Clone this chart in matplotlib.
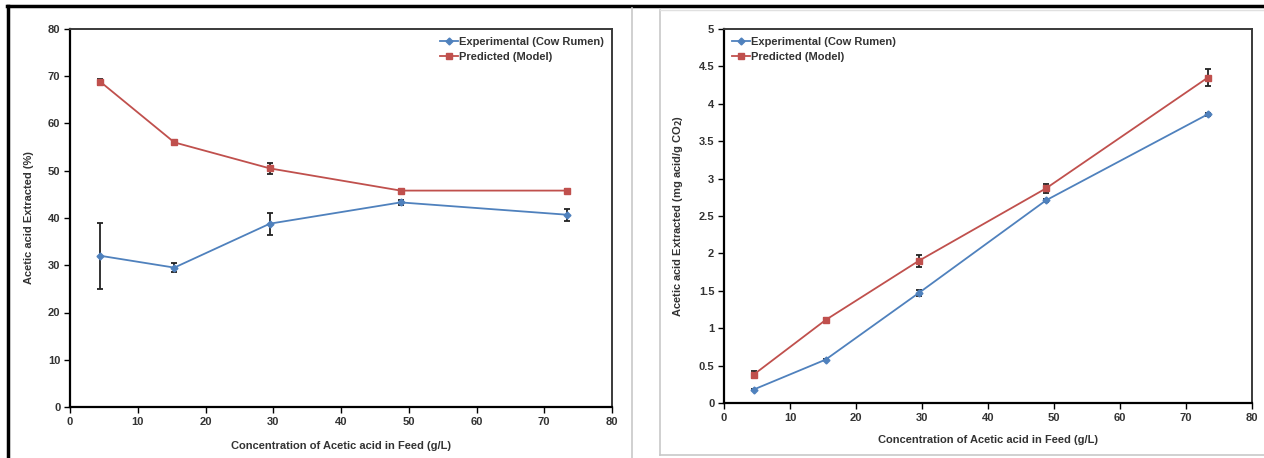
import matplotlib
matplotlib.use("Agg")
import matplotlib.pyplot as plt
from matplotlib.lines import Line2D

plt.rcParams['font.family'] = ['Liberation Sans', 'DejaVu Sans']
plt.rcParams['font.weight'] = 'bold'

feed_conc = [4.5, 15.4, 29.5, 48.8, 73.3]

# Left panel: % extracted
exp_pct = [32.0, 29.5, 38.8, 43.3, 40.7]
exp_pct_err = [7.0, 1.0, 2.3, 0.5, 1.3]
pred_pct = [68.8, 56.0, 50.5, 45.8, 45.8]
pred_pct_err = [0.6, 0.3, 1.2, 0.3, 0.3]

# Right panel: mg acid / g CO2
exp_mg = [0.18, 0.58, 1.47, 2.71, 3.86]
exp_mg_err = [0.01, 0.01, 0.04, 0.02, 0.02]
pred_mg = [0.38, 1.11, 1.90, 2.87, 4.35]
pred_mg_err = [0.05, 0.02, 0.08, 0.06, 0.11]

x_ticks = [0, 10, 20, 30, 40, 50, 60, 70, 80]
left_yticks = [0, 10, 20, 30, 40, 50, 60, 70, 80]
right_yticks = [0, 0.5, 1, 1.5, 2, 2.5, 3, 3.5, 4, 4.5, 5]
right_yticklabels = ['0', '0.5', '1', '1.5', '2', '2.5', '3', '3.5', '4', '4.5', '5']

labels = ['Experimental (Cow Rumen)', 'Predicted (Model)']
x_label = 'Concentration of Acetic acid in Feed (g/L)'
left_ylabel = 'Acetic acid Extracted (%)'
right_ylabel = 'Acetic acid Extracted (mg acid/g CO$_2$)'

BLUE = '#4F81BD'
RED = '#C0504D'
W, H = 1264, 458

fig = plt.figure(figsize=(W / 100, H / 100), dpi=100)

def frac_box(x0, x1, y0, y1):
    return [x0 / W, 1 - y1 / H, (x1 - x0) / W, (y1 - y0) / H]

axL = fig.add_axes(frac_box(70, 612, 29, 407))
axR = fig.add_axes(frac_box(724, 1252, 29, 403))

def style(ax):
    for s in ['left', 'bottom']:
        ax.spines[s].set_color('black')
        ax.spines[s].set_linewidth(1.6)
    for s in ['top', 'right']:
        ax.spines[s].set_color('#3a3a3a')
        ax.spines[s].set_linewidth(1.4)
    ax.tick_params(direction='out', length=4, width=1, labelsize=8,
                   colors='black', pad=3)
    for t in ax.get_xticklabels() + ax.get_yticklabels():
        t.set_fontweight('bold')
        t.set_color('#333333')

def plot_series(ax, y1, e1, y2, e2):
    ax.errorbar(feed_conc, y1, yerr=e1, color=BLUE, marker='D', markersize=3.5,
                linewidth=1.3, ecolor='#222222', elinewidth=1.3, capsize=2.5,
                capthick=1.3, label=labels[0], zorder=3)
    ax.errorbar(feed_conc, y2, yerr=e2, color=RED, marker='s', markersize=4.5,
                linewidth=1.3, ecolor='#222222', elinewidth=1.3, capsize=2.5,
                capthick=1.3, label=labels[1], zorder=3)

plot_series(axL, exp_pct, exp_pct_err, pred_pct, pred_pct_err)
axL.set_xlim(0, 80)
axL.set_ylim(0, 80)
axL.set_xticks(x_ticks)
axL.set_yticks(left_yticks)
axL.set_xlabel(x_label, fontsize=8, fontweight='bold', color='#333333', labelpad=10)
axL.set_ylabel(left_ylabel, fontsize=8, fontweight='bold', color='#333333', labelpad=10)
style(axL)

plot_series(axR, exp_mg, exp_mg_err, pred_mg, pred_mg_err)
axR.set_xlim(0, 80)
axR.set_ylim(0, 5)
axR.set_xticks(x_ticks)
axR.set_yticks(right_yticks)
axR.set_yticklabels(right_yticklabels)
axR.set_xlabel(x_label, fontsize=8, fontweight='bold', color='#333333', labelpad=9)
axR.set_ylabel(right_ylabel, fontsize=8, fontweight='bold', color='#333333', labelpad=10)
style(axR)

def legend_handles():
    h1 = Line2D([], [], color=BLUE, marker='D', markersize=3.5, linewidth=1.3)
    h2 = Line2D([], [], color=RED, marker='s', markersize=4.5, linewidth=1.3)
    return [h1, h2]

legL = axL.legend(legend_handles(), labels, loc='upper right', frameon=False,
                  handlelength=1.6, handletextpad=0.1,
                  borderaxespad=0.3, labelspacing=0.5,
                  prop={'weight': 'bold', 'size': 8})
legR = axR.legend(legend_handles(), labels, loc='upper left', frameon=False,
                  handlelength=1.6, handletextpad=0.1,
                  borderaxespad=0.3, labelspacing=0.5,
                  prop={'weight': 'bold', 'size': 8})
for leg in (legL, legR):
    for t in leg.get_texts():
        t.set_color('#333333')

# Panel borders (figure decoration)
def fline(xs, ys, **kw):
    fig.add_artist(Line2D([x / W for x in xs], [1 - y / H for y in ys],
                          transform=fig.transFigure, **kw))

fline([7, W], [6, 6], color='black', linewidth=2.5)
fline([8, 8], [6, H], color='black', linewidth=2.5)
fline([632, 632], [8, H], color='#c8c8c8', linewidth=1.2)
fline([660, 660], [10, 455], color='#c8c8c8', linewidth=1.2)
fline([660, W], [455, 455], color='#c8c8c8', linewidth=1.2)
fline([660, W], [10, 10], color='#e0e0e0', linewidth=1.0)

fig.savefig('out.png', dpi=100)
